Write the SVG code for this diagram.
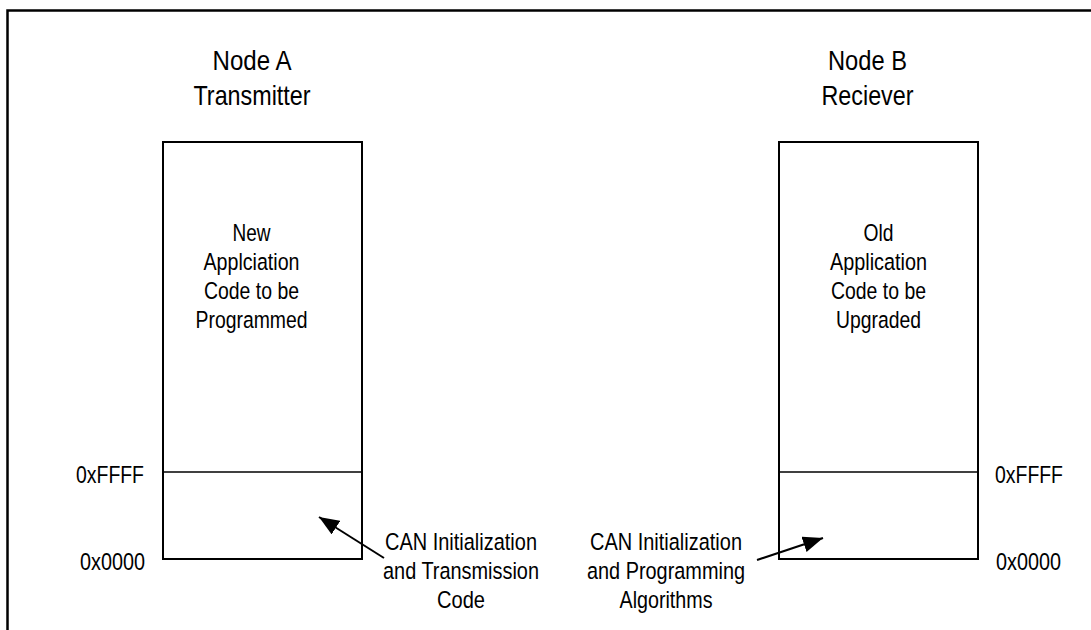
<svg xmlns="http://www.w3.org/2000/svg" width="1091" height="630" viewBox="0 0 1091 630">
<style>
text{font-family:"Liberation Sans Narrow","Arial Narrow","Liberation Sans",Arial,sans-serif;fill:#000;text-anchor:middle}
.title{font-size:28.5px}
.lbl{font-size:24.5px}
.box{fill:#fff;stroke:#000;stroke-width:2}
.div{stroke:#000;stroke-width:1.5}
.conn{stroke:#000;stroke-width:2;fill:none}
</style>
<defs>
<marker id="ah" markerUnits="userSpaceOnUse" markerWidth="22" markerHeight="16" refX="20" refY="8" orient="auto">
<path d="M0,0 L20,8 L0,16 z" fill="#000"/>
</marker>
</defs>
<rect width="1091" height="630" fill="#fff"/>
<path d="M7.5,640 L7.5,10.5 L1095,10.5" fill="none" stroke="#000" stroke-width="2.5"/>
<g id="nodeA">
<text class="title" x="252" y="70" textLength="79" lengthAdjust="spacingAndGlyphs">Node A</text>
<text class="title" x="252" y="105" textLength="117" lengthAdjust="spacingAndGlyphs">Transmitter</text>
<rect class="box" x="163" y="142" width="199" height="417"/>
<line class="div" x1="163" y1="472" x2="362" y2="472"/>
<text class="lbl" x="251.5" y="241" textLength="38" lengthAdjust="spacingAndGlyphs">New</text>
<text class="lbl" x="251.5" y="270" textLength="96" lengthAdjust="spacingAndGlyphs">Applciation</text>
<text class="lbl" x="251.5" y="299" textLength="95" lengthAdjust="spacingAndGlyphs">Code to be</text>
<text class="lbl" x="251.5" y="328" textLength="112" lengthAdjust="spacingAndGlyphs">Programmed</text>
<text class="lbl" x="144" y="483" style="text-anchor:end" textLength="68" lengthAdjust="spacingAndGlyphs">0xFFFF</text>
<text class="lbl" x="145" y="570" style="text-anchor:end" textLength="65" lengthAdjust="spacingAndGlyphs">0x0000</text>
</g>
<g id="nodeB">
<text class="title" x="867.5" y="70" textLength="79" lengthAdjust="spacingAndGlyphs">Node B</text>
<text class="title" x="867.5" y="105" textLength="92" lengthAdjust="spacingAndGlyphs">Reciever</text>
<rect class="box" x="779" y="142" width="199" height="417"/>
<line class="div" x1="779" y1="472" x2="978" y2="472"/>
<text class="lbl" x="878.5" y="241" textLength="30" lengthAdjust="spacingAndGlyphs">Old</text>
<text class="lbl" x="878.5" y="270" textLength="97" lengthAdjust="spacingAndGlyphs">Application</text>
<text class="lbl" x="878.5" y="299" textLength="95" lengthAdjust="spacingAndGlyphs">Code to be</text>
<text class="lbl" x="878.5" y="328" textLength="85" lengthAdjust="spacingAndGlyphs">Upgraded</text>
<text class="lbl" x="995" y="483" style="text-anchor:start" textLength="68" lengthAdjust="spacingAndGlyphs">0xFFFF</text>
<text class="lbl" x="996" y="570" style="text-anchor:start" textLength="65" lengthAdjust="spacingAndGlyphs">0x0000</text>
</g>
<g id="labelA">
<text class="lbl" x="461" y="550" textLength="152" lengthAdjust="spacingAndGlyphs">CAN Initialization</text>
<text class="lbl" x="461" y="579" textLength="156" lengthAdjust="spacingAndGlyphs">and Transmission</text>
<text class="lbl" x="461" y="608" textLength="48" lengthAdjust="spacingAndGlyphs">Code</text>
</g>
<g id="labelB">
<text class="lbl" x="666" y="550" textLength="152" lengthAdjust="spacingAndGlyphs">CAN Initialization</text>
<text class="lbl" x="666" y="579" textLength="158" lengthAdjust="spacingAndGlyphs">and Programming</text>
<text class="lbl" x="666" y="608" textLength="93" lengthAdjust="spacingAndGlyphs">Algorithms</text>
</g>
<g id="connectors">
<line class="conn" x1="384" y1="558" x2="319" y2="517" marker-end="url(#ah)"/>
<line class="conn" x1="757" y1="560" x2="823" y2="538" marker-end="url(#ah)"/>
</g>
</svg>
